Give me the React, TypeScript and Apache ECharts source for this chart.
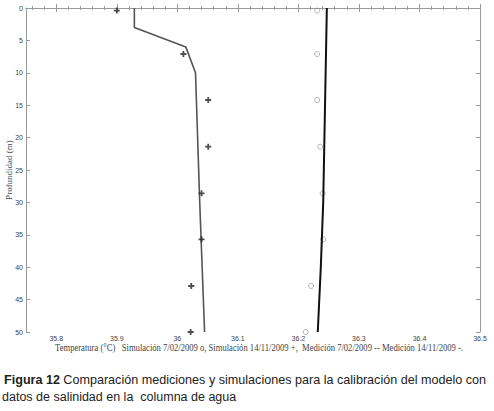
import React, { useEffect, useRef } from "react";
import * as echarts from "echarts";

// Depths (m)
const simDepthA = [0, 3, 6, 10, 30, 50];
const simValA = [35.929, 35.929, 36.014, 36.03, 36.037, 36.045];
const simDepthB = [0, 10, 20, 30, 40, 50];
const simValB = [36.247, 36.245, 36.243, 36.241, 36.237, 36.232];
const measDepth = [0.4, 7.1, 14.2, 21.4, 28.6, 35.7, 42.9, 50];
const measPlus = [35.9, 36.01, 36.051, 36.051, 36.04, 36.04, 36.023, 36.022];
const measCircle = [36.231, 36.231, 36.231, 36.236, 36.24, 36.241, 36.221, 36.212];
const xTickLabels = [35.8, 35.9, 36, 36.1, 36.2, 36.3, 36.4, 36.5];
const yTicks = [0, 5, 10, 15, 20, 25, 30, 35, 40, 45, 50];

const X_MIN = 35.75;
const X_MAX = 36.5;
const minorTicks: number[] = [];
for (let i = 0; i <= 37; i++) minorTicks.push(+(35.76 + i * 0.02).toFixed(2));

const axisGray = "#9a9a9a";
const PLUS =
  "path://M-1.2,-4 H1.2 V-1.2 H4 V1.2 H1.2 V4 H-1.2 V1.2 H-4 V-1.2 H-1.2 Z";

export default function App() {
  const ref = useRef<HTMLDivElement>(null);
  useEffect(() => {
    if (!ref.current) return;
    const chart = echarts.init(ref.current, undefined, { renderer: "svg" });
    const xBase = {
      type: "value" as const,
      min: X_MIN,
      max: X_MAX,
      splitLine: { show: false },
    };
    chart.setOption({
      animation: false,
      backgroundColor: "#ffffff",
      grid: { left: 26, right: 14, top: 8, bottom: 79 },
      xAxis: [
        {
          ...xBase,
          position: "bottom",
          axisLine: { show: true, lineStyle: { color: axisGray, width: 1 } },
          axisTick: {
            show: true,
            inside: true,
            length: 2,
            customValues: minorTicks,
            lineStyle: { color: axisGray },
          },
          axisLabel: {
            show: true,
            customValues: xTickLabels,
            margin: 3,
            fontSize: 7,
            color: "#444",
            fontFamily: "Liberation Sans",
            formatter: (v: number) => String(+v.toFixed(1)),
          },
        },
        {
          ...xBase,
          position: "bottom",
          axisLine: { show: false },
          axisTick: {
            show: true,
            inside: true,
            length: 4,
            customValues: xTickLabels,
            lineStyle: { color: axisGray },
          },
          axisLabel: { show: false },
        },
        {
          ...xBase,
          position: "top",
          axisLine: { show: true, lineStyle: { color: axisGray, width: 1 } },
          axisTick: {
            show: true,
            inside: true,
            length: 2,
            customValues: minorTicks,
            lineStyle: { color: axisGray },
          },
          axisLabel: { show: false },
        },
        {
          ...xBase,
          position: "top",
          axisLine: { show: false },
          axisTick: {
            show: true,
            inside: true,
            length: 4,
            customValues: xTickLabels,
            lineStyle: { color: axisGray },
          },
          axisLabel: { show: false },
        },
      ],
      yAxis: [
        {
          type: "value",
          inverse: true,
          min: 0,
          max: 50,
          interval: 5,
          position: "left",
          splitLine: { show: false },
          axisLine: { show: true, lineStyle: { color: axisGray } },
          axisTick: { show: true, inside: true, length: 4, lineStyle: { color: axisGray } },
          axisLabel: {
            customValues: yTicks,
            margin: 3,
            fontSize: 7,
            color: "#444",
            fontFamily: "Liberation Sans",
          },
        },
        {
          type: "value",
          inverse: true,
          min: 0,
          max: 50,
          interval: 5,
          position: "right",
          splitLine: { show: false },
          axisLine: { show: true, lineStyle: { color: axisGray } },
          axisTick: { show: true, inside: true, length: 4, lineStyle: { color: axisGray } },
          axisLabel: { show: false },
        },
      ],
      series: [
        {
          type: "line",
          xAxisIndex: 0,
          yAxisIndex: 0,
          data: simValA.map((v, i) => [v, simDepthA[i]]),
          showSymbol: false,
          lineStyle: { color: "#555", width: 1.6 },
          z: 2,
        },
        {
          type: "line",
          xAxisIndex: 0,
          yAxisIndex: 0,
          data: simValB.map((v, i) => [v, simDepthB[i]]),
          showSymbol: false,
          lineStyle: { color: "#111", width: 2 },
          z: 3,
        },
        {
          type: "scatter",
          xAxisIndex: 0,
          yAxisIndex: 0,
          data: measPlus.map((v, i) => [v, measDepth[i]]),
          symbol: PLUS,
          symbolSize: 6,
          itemStyle: { color: "#222" },
          z: 4,
        },
        {
          type: "scatter",
          xAxisIndex: 0,
          yAxisIndex: 0,
          data: measCircle.map((v, i) => [v, measDepth[i]]),
          symbol: "circle",
          symbolSize: 5,
          itemStyle: { color: "transparent", borderColor: "#888", borderWidth: 0.8 },
          z: 2,
        },
      ],
      graphic: [
        {
          type: "text",
          x: 9,
          y: 170,
          rotation: Math.PI / 2,
          style: {
            text: "Profundidad (m)",
            fontFamily: "Liberation Serif",
            fontSize: 9,
            fill: "#444",
            align: "center",
            verticalAlign: "middle",
          },
        },
        {
          type: "text",
          x: 259,
          y: 348,
          scaleX: 0.86,
          style: {
            text:
              "Temperatura (°C)   Simulación 7/02/2009 o, Simulación 14/11/2009 +,  Medición 7/02/2009 -- Medición 14/11/2009 -.",
            fontFamily: "Liberation Serif",
            fontSize: 10,
            fill: "#444",
            align: "center",
            verticalAlign: "middle",
          },
        },
        {
          type: "text",
          x: 4,
          y: 380,
          style: {
            rich: {
              b: { fontWeight: "bold", fontFamily: "Liberation Sans", fontSize: 12.6, fill: "#222" },
              n: { fontFamily: "Liberation Sans", fontSize: 12.6, fill: "#222" },
            },
            text: "{b|Figura 12} {n|Comparación mediciones y simulaciones para la calibración del modelo con}",
            verticalAlign: "middle",
          },
        },
        {
          type: "text",
          x: 2,
          y: 397,
          style: {
            text: "datos de salinidad en la  columna de agua",
            fontFamily: "Liberation Sans",
            fontSize: 12.5,
            fill: "#222",
            verticalAlign: "middle",
          },
        },
      ],
    });
    return () => chart.dispose();
  }, []);
  return <div ref={ref} style={{ width: 494, height: 411, position: "absolute", left: 0, top: 0 }} />;
}
